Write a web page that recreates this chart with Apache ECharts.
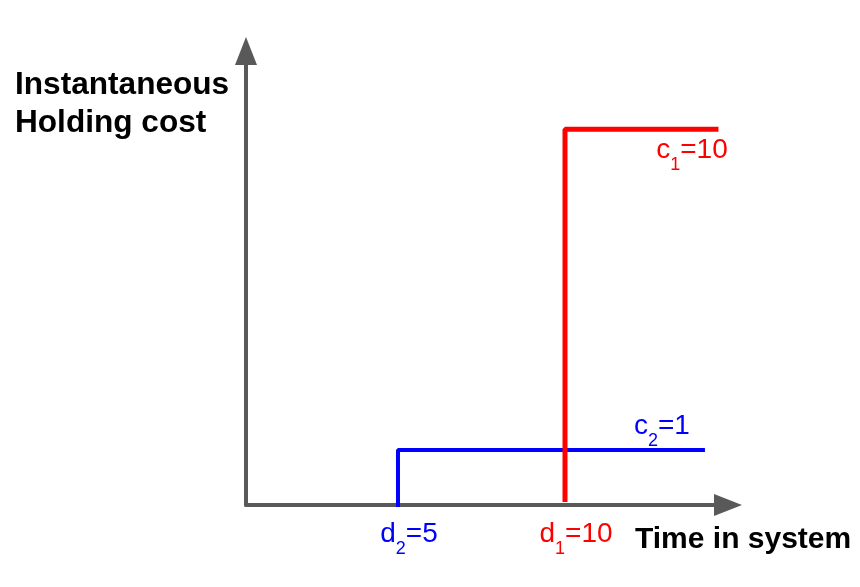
<!DOCTYPE html>
<html>
<head>
<meta charset="utf-8">
<script src="https://cdn.jsdelivr.net/npm/echarts@6/dist/echarts.min.js"></script>
<style>
  html, body { margin: 0; padding: 0; background: #fff; }
  #chart { width: 860px; height: 587px; }
</style>
</head>
<body>
<div id="chart"></div>
<script>
// schematic step functions (x = time in system, y = holding cost level)
const blueSteps = [[5, 0], [5, 1], [14.13, 1]]
const redSteps = [[10, 0.1], [10, 6.83], [14.52, 6.83]]
const xTicks = [5, 10]
const xMin = 0.45
const xMax = 14.88
const yMax = 8.25

const BLUE = '#0000ff'
const RED = '#ff0000'
const AXIS = '#595959'
const FONT = 'Liberation Sans, Arial, sans-serif'

const subRich = (color) => ({
  m: { color: color, fontSize: 28, fontFamily: FONT, lineHeight: 28 },
  s: { color: color, fontSize: 18, fontFamily: FONT, lineHeight: 48, verticalAlign: 'bottom' }
})

const chart = echarts.init(document.getElementById('chart'))

const lastLabel = (arr, opts) => arr.map((p, i) => {
  if (i !== arr.length - 1) return p
  return { value: p, label: Object.assign({ show: true }, opts) }
})

const option = {
  animation: false,
  title: [
    {
      text: 'Instantaneous\nHolding cost',
      left: 15, top: 66, padding: 0,
      textStyle: { fontSize: 31.6, fontWeight: 'bold', color: '#000', fontFamily: FONT, lineHeight: 38 }
    },
    {
      text: 'Time in system',
      left: 635, top: 525, padding: 0,
      textStyle: { fontSize: 30, fontWeight: 'bold', color: '#000', fontFamily: FONT }
    }
  ],
  grid: { left: 246, right: 132, top: 51, bottom: 82 },
  xAxis: {
    type: 'value', min: xMin, max: xMax,
    splitLine: { show: false },
    axisTick: { show: false },
    axisLine: {
      show: true, onZero: false,
      symbol: ['none', 'triangle'], symbolSize: [22, 28],
      lineStyle: { color: AXIS, width: 4 }
    },
    axisLabel: {
      customValues: xTicks,
      margin: 5,
      padding: [0, 0, 0, 22],
      formatter: v => v === 5 ? '{b|d}{bs|2}{b|=5}' : '{r|d}{rs|1}{r|=10}',
      rich: {
        b: subRich(BLUE).m, bs: subRich(BLUE).s,
        r: subRich(RED).m, rs: subRich(RED).s
      }
    }
  },
  yAxis: {
    type: 'value', min: 0, max: yMax,
    splitLine: { show: false },
    axisTick: { show: false },
    axisLabel: { show: false },
    axisLine: {
      show: true, onZero: false,
      symbol: ['none', 'triangle'], symbolSize: [22, 28],
      lineStyle: { color: AXIS, width: 4 }
    }
  },
  series: [
    {
      type: 'line', z: 3,
      symbol: 'circle', symbolSize: 0,
      lineStyle: { color: BLUE, width: 4, cap: 'square' },
      itemStyle: { color: BLUE },
      data: lastLabel(blueSteps, {
        position: 'top', distance: 0, offset: [-41, 0],
        formatter: '{m|c}{s|2}{m|=1}', rich: subRich(BLUE)
      })
    },
    {
      type: 'line', z: 4,
      symbol: 'circle', symbolSize: 0,
      lineStyle: { color: RED, width: 5, cap: 'square' },
      itemStyle: { color: RED },
      data: lastLabel(redSteps, {
        position: 'bottom', distance: 0, offset: [-24, -3],
        formatter: '{m|c}{s|1}{m|=10}', rich: subRich(RED)
      })
    }
  ]
}

chart.setOption(option)
</script>
</body>
</html>
